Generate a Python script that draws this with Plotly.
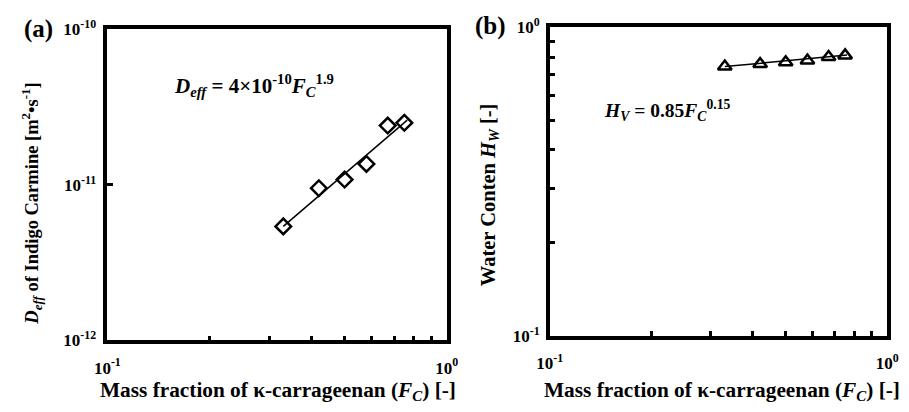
import plotly.graph_objects as go

# ---- data ----
fc = [0.33, 0.42, 0.50, 0.58, 0.67, 0.75]
deff = [5.4e-12, 9.5e-12, 1.08e-11, 1.36e-11, 2.4e-11, 2.5e-11]
hw = [0.745, 0.76, 0.77, 0.78, 0.80, 0.81]

deff_fit_x = [0.33, 0.765]
deff_fit_y = [5.4e-12, 2.6e-11]
hw_fit_x = [0.33, 0.76]
hw_fit_y = [0.745, 0.812]

x_tickvals = [0.1, 1]
x_ticktext = ["10<sup>-1</sup>", "10<sup>0</sup>"]
ya_tickvals = [1e-12, 1e-11, 1e-10]
ya_ticktext = ["10<sup>-12</sup>", "10<sup>-11</sup>", "10<sup>-10</sup>"]
yb_tickvals = [0.1, 1]
yb_ticktext = ["10<sup>-1</sup>", "10<sup>0</sup>"]

FONT = "Liberation Serif"

fig = go.Figure()

fig.add_trace(go.Scatter(x=deff_fit_x, y=deff_fit_y, mode="lines",
                         line=dict(color="black", width=1.5), xaxis="x", yaxis="y",
                         showlegend=False))
fig.add_trace(go.Scatter(x=fc, y=deff, mode="markers",
                         marker=dict(symbol="diamond-open", size=12, color="black",
                                     line=dict(width=2.5, color="black")),
                         xaxis="x", yaxis="y", showlegend=False))
fig.add_trace(go.Scatter(x=hw_fit_x, y=hw_fit_y, mode="lines",
                         line=dict(color="black", width=1.5), xaxis="x2", yaxis="y2",
                         showlegend=False))
fig.add_trace(go.Scatter(x=fc, y=hw, mode="markers",
                         marker=dict(symbol="triangle-up-open", size=12, color="black",
                                     line=dict(width=2.5, color="black")),
                         xaxis="x2", yaxis="y2", showlegend=False))

tickfont = dict(family=FONT, size=17, color="black", weight="bold")
common = dict(type="log", showgrid=False, zeroline=False, showline=True, linecolor="black",
              linewidth=3.5, mirror=True, ticks="inside", ticklen=6, tickwidth=2.5,
              tickcolor="black", tickmode="array", tickfont=tickfont)

minor = dict(ticks="inside", ticklen=5, tickwidth=2.5, tickcolor="black", showgrid=False,
             dtick="D1")

fig.update_layout(
    width=909, height=412, margin=dict(l=0, r=0, t=0, b=0),
    paper_bgcolor="white", plot_bgcolor="white",
    xaxis=dict(domain=[97/909, 446/909], range=[-1, 0], anchor="y", minor=minor,
               tickvals=x_tickvals, ticktext=x_ticktext, ticklabelstandoff=9, **common),
    yaxis=dict(domain=[1-347/412, 1-18/412], range=[-12, -10], anchor="x",
               tickvals=ya_tickvals, ticktext=ya_ticktext, ticklabelstandoff=4, **common),
    xaxis2=dict(domain=[552/909, 899/909], range=[-1, 0], anchor="y2", minor=minor,
                tickvals=x_tickvals, ticktext=x_ticktext, ticklabelstandoff=9, **common),
    yaxis2=dict(domain=[1-342/412, 1-16/412], range=[-1, 0], anchor="x2", minor=minor,
                tickvals=yb_tickvals, ticktext=yb_ticktext, ticklabelstandoff=3, **common),
)

def ann(x, y, text, size, angle=0, xanchor="center"):
    fig.add_annotation(x=x/909, y=1-y/412, xref="paper", yref="paper", text=text,
                       showarrow=False, textangle=angle, xanchor=xanchor, yanchor="middle",
                       font=dict(family=FONT, size=size, color="black", weight="bold"))

ann(26, 18, "(a)", 25)
ann(491, 15, "(b)", 25)
ann(164, 78, "<i>D</i><sub><i>eff</i></sub> = 4×10<sup>-10</sup><i>F</i><sub><i>C</i></sub><sup>1.9</sup>", 21, xanchor="left")
ann(606, 104, "<i>H</i><sub><i>V</i></sub> = 0.85<i>F</i><sub><i>C</i></sub><sup>0.15</sup>", 19.5, xanchor="left")
ann(19, 202, "<i>D</i><sub><i>eff</i></sub> of Indigo Carmine [m<sup>2</sup>•s<sup>-1</sup>]", 18.5, angle=-90)
ann(490, 193, "Water Conten <i>H</i><sub><i>W</i></sub> [-]", 20.5, angle=-90)
ann(272, 400, "Mass fraction of κ-carrageenan (<i>F</i><sub><i>C</i></sub>) [-]", 21.3)
ann(729, 400, "Mass fraction of κ-carrageenan (<i>F</i><sub><i>C</i></sub>) [-]", 21.3)

fig.write_html("out.html")
